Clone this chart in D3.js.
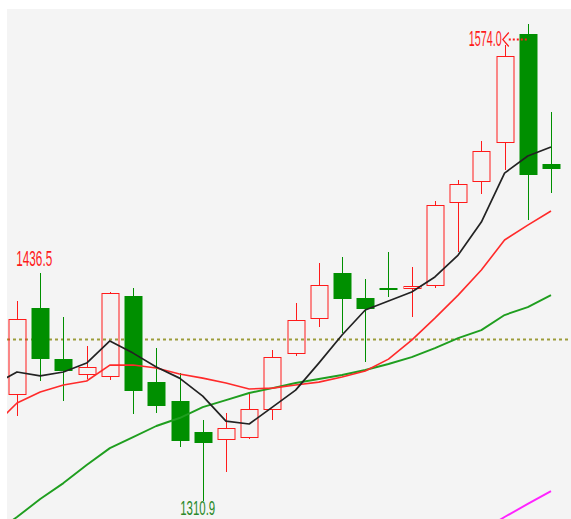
<!DOCTYPE html>
<html>
<head>
<meta charset="utf-8">
<script src="https://cdn.jsdelivr.net/npm/d3@7/dist/d3.min.js"></script>
<style>
  html, body { margin: 0; padding: 0; background: #ffffff; }
  svg { display: block; }
</style>
</head>
<body>
<script>
// ---- data ----
const days = d3.range(0, 24);
const opens  = [1369.9,1417.4,1389.2,1381.0,1379.8,1424.0,1376.5,1366.1,1349.0,1345.1,1346.2,1361.6,1392.5,1411.8,1436.7,1422.9,1428.4,1428.4,1430.0,1475.8,1487.4,1508.9,1568.5,1496.8];
const highs  = [1421.2,1436.5,1412.4,1396.4,1426.2,1428.4,1395.3,1381.5,1355.6,1359.4,1370.5,1394.2,1420.1,1442.2,1445.5,1433.4,1448.2,1440.0,1476.4,1488.0,1509.5,1562.4,1574.0,1525.5];
const lows   = [1357.8,1377.1,1366.1,1378.2,1377.6,1358.9,1359.4,1340.7,1310.9,1326.9,1345.1,1355.6,1390.9,1406.9,1403.6,1387.6,1423.4,1412.4,1428.4,1448.2,1480.2,1493.5,1465.9,1480.8];
const closes = [1411.3,1389.2,1382.6,1384.8,1425.8,1371.6,1363.3,1344.0,1342.9,1351.2,1361.6,1390.3,1410.7,1430.0,1422.3,1416.8,1427.3,1429.5,1474.2,1485.8,1504.0,1556.4,1490.7,1494.0];

// moving averages: first entry is the day before the first visible candle
const maDays = d3.range(-1, 24);
const ma5  = [1374.9,1382.1,1379.9,1382.1,1387.0,1399.2,1392.5,1384.8,1378.7,1368.8,1355.0,1353.4,1362.7,1372.1,1387.0,1402.5,1416.3,1421.2,1426.2,1434.5,1446.6,1464.8,1491.8,1501.2,1506.2];
const ma10 = [1352.3,1365.0,1371.0,1374.9,1377.1,1385.9,1385.9,1384.3,1381.0,1378.7,1376.0,1372.7,1373.2,1374.9,1376.5,1379.3,1382.6,1389.2,1399.7,1411.8,1424.5,1438.3,1454.9,1463.1,1470.9];
const ma20 = [1293.0,1302.1,1312.0,1320.8,1330.8,1340.1,1346.2,1352.3,1356.7,1362.7,1366.6,1370.5,1373.2,1376.0,1378.2,1380.4,1383.2,1386.5,1390.3,1395.3,1400.8,1405.2,1413.5,1417.9,1424.5];
const ma60 = [null,null,null,null,null,null,null,null,null,null,null,null,null,null,null,null,null,null,null,null,null,1294.4,1302.1,1309.3,1316.4];

const refLevel = 1400.3;
const highLabel = "1574.0";
const leftHighLabel = "1436.5";
const lowLabel = "1310.9";

// ---- layout ----
const W = 571, H = 519;
const plot = { x0: 7, y0: 9, x1: 571, y1: 519 };

const svg = d3.select("body").append("svg").attr("width", W).attr("height", H);

svg.append("rect").attr("x", plot.x0).attr("y", plot.y0)
  .attr("width", plot.x1 - plot.x0).attr("height", plot.y1 - plot.y0)
  .attr("fill", "#f4f4f4");

svg.append("clipPath").attr("id", "clip").append("rect")
  .attr("x", plot.x0).attr("y", plot.y0)
  .attr("width", plot.x1 - plot.x0).attr("height", plot.y1 - plot.y0);

const x = d3.scaleLinear().domain([0, 23]).range([17, 551]);
const y = d3.scaleLinear().domain([1301.0, 1582.3]).range([519, 9]);

const g = svg.append("g").attr("clip-path", "url(#clip)");

const RED = "#ff1a1a", GREEN = "#008f00";

// reference dotted line
g.append("line")
  .attr("x1", plot.x0).attr("x2", plot.x1)
  .attr("y1", Math.round(y(refLevel)) + 0.5).attr("y2", Math.round(y(refLevel)) + 0.5)
  .attr("stroke", "#9c9c3a").attr("stroke-width", 2).attr("stroke-dasharray", "3,3");

// candles
const candles = days.map(i => ({ i, o: opens[i], h: highs[i], l: lows[i], c: closes[i] }));
const bw = 17;
const cg = g.append("g");
candles.forEach(d => {
  const cx = Math.round(x(d.i)) + 0.5;
  const up = d.c >= d.o;
  const top = Math.round(y(Math.max(d.o, d.c)));
  let bot = Math.round(y(Math.min(d.o, d.c)));
  if (bot - top < 1) bot = top + 1;
  const yH = Math.round(y(d.h)), yL = Math.round(y(d.l));
  if (up) {
    cg.append("line").attr("x1", cx).attr("x2", cx).attr("y1", yH).attr("y2", top + 0.5)
      .attr("stroke", RED).attr("stroke-width", 1);
    cg.append("line").attr("x1", cx).attr("x2", cx).attr("y1", bot + 0.5).attr("y2", yL)
      .attr("stroke", RED).attr("stroke-width", 1);
    cg.append("rect").attr("x", cx - bw / 2).attr("y", top + 0.5)
      .attr("width", bw).attr("height", Math.max(bot - top, 1))
      .attr("fill", "none").attr("stroke", RED).attr("stroke-width", 1);
  } else {
    cg.append("line").attr("x1", cx).attr("x2", cx).attr("y1", yH).attr("y2", yL)
      .attr("stroke", GREEN).attr("stroke-width", 1);
    cg.append("rect").attr("x", cx - bw / 2 - 0.5).attr("y", top)
      .attr("width", bw + 1).attr("height", Math.max(bot - top, 2))
      .attr("fill", GREEN);
  }
});

// moving average lines
function maLine(values, color, width) {
  const data = maDays.map((d, k) => ({ d, v: values[k] }));
  const line = d3.line().defined(p => p.v != null)
    .x(p => x(p.d)).y(p => y(p.v));
  g.append("path").datum(data).attr("d", line)
    .attr("fill", "none").attr("stroke", color).attr("stroke-width", width)
    .attr("stroke-linejoin", "round");
}
maLine(ma20, "#1f9e1f", 1.9);
maLine(ma10, "#ff2a2a", 1.6);
maLine(ma5, "#222222", 1.7);
maLine(ma60, "#ff22ff", 1.9);

// labels
const font = "'Liberation Sans Narrow', 'Liberation Sans', Arial, sans-serif";
function label(txt, xx, yy, anchor, color, len, size) {
  svg.append("text").attr("x", xx).attr("y", yy).attr("text-anchor", anchor)
    .attr("font-family", font).attr("font-size", size || 22).attr("fill", color)
    .attr("textLength", len).attr("lengthAdjust", "spacingAndGlyphs")
    .text(txt);
}
// left high
label(leftHighLabel, x(1) - 24, y(highs[1]) - 7, "start", RED, 36);
// top high with arrow
const hi = 22;
const arrowY = Math.round(y(highs[hi]) + 15) + 0.5;
label(highLabel, x(hi) - 26, y(highs[hi]) + 22, "end", RED, 33);
svg.append("path")
  .attr("d", `M${x(hi) - 19},${arrowY - 7} L${x(hi) - 25},${arrowY} L${x(hi) - 19},${arrowY + 7}`)
  .attr("fill", "none").attr("stroke", RED).attr("stroke-width", 1.2);
svg.append("line").attr("x1", x(hi) - 19).attr("x2", x(hi))
  .attr("y1", arrowY).attr("y2", arrowY)
  .attr("stroke", RED).attr("stroke-width", 2).attr("stroke-dasharray", "2,2");
// low (kept fully inside the picture)
label(lowLabel, x(8) - 5, y(lows[8]) + 14, "middle", "#2a8a2a", 35, 20);
</script>
</body>
</html>
